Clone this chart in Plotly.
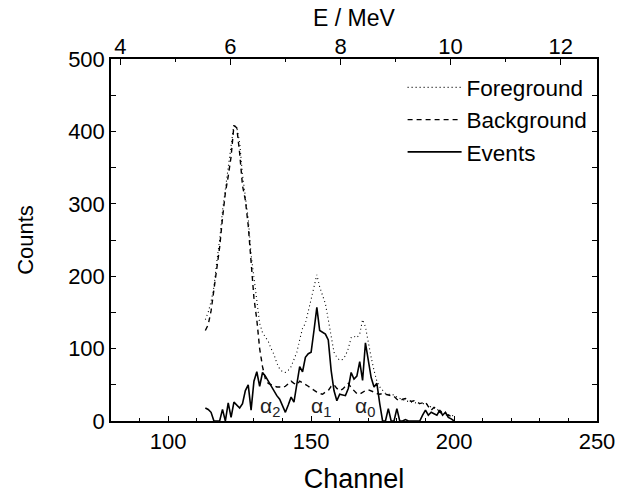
import plotly.graph_objects as go

channel = list(range(113, 201))

foreground = [140, 150, 165, 185, 220, 250, 290, 320, 350, 380,
              410, 405, 385, 340, 310, 280, 230, 200, 165, 135,
              122, 115, 110, 100, 92, 80, 72, 68, 67, 70,
              75, 85, 95, 112, 128, 135, 150, 168, 185, 202,
              185, 172, 162, 140, 115, 95, 88, 84, 85, 90,
              100, 115, 117, 115, 120, 140, 130, 108, 88, 70,
              55, 47, 42, 38, 37, 37, 36, 33, 31, 30,
              28, 27, 26, 25, 24, 24, 24, 24, 22, 19,
              18, 16, 15, 13, 10, 9, 8, 7]

background = [125, 133, 152, 182, 215, 240, 280, 315, 338, 365,
              408, 405, 370, 325, 305, 270, 220, 170, 140, 100,
              75, 58, 52, 50, 48, 47, 47, 46, 48, 52,
              55, 52, 50, 55, 53, 50, 48, 45, 42, 40,
              38, 37, 40, 42, 48, 50, 45, 42, 44, 48,
              52, 46, 42, 38, 37, 40, 42, 43, 42, 40,
              38, 37, 38, 37, 36, 35, 34, 30, 28, 30,
              31, 29, 27, 28, 26, 24, 25, 26, 20, 15,
              19, 17, 12, 10, 9, 8, 6, 5]

events = [18, 16, 12, 0, 0, 0, 16, 0, 25, 5,
          26, 22, 18, 24, 42, 50, 15, 55, 68, 48,
          67, 62, 55, 48, 42, 35, 30, 20, 12, 22,
          33, 26, 48, 75, 68, 88, 93, 95, 125, 157,
          125, 122, 120, 112, 70, 42, 28, 37, 36, 35,
          45, 67, 58, 62, 82, 56, 108, 85, 60, 47,
          52, 24, 0, 0, 17, 0, 0, 17, 0, 0,
          2, 0, 0, 0, 0, 0, 8, 15, 8, 12,
          10, 8, 15, 8, 12, 5, 3, 0]

energy_ticks = [4, 6, 8, 10, 12]
energy_range = [3.83, 12.66]

peak_labels = ["α<sub>2</sub>", "α<sub>1</sub>", "α<sub>0</sub>"]
peak_channels = [135.5, 153.5, 169.0]
peak_counts = [20, 20, 20]

FONT = "Liberation Sans, Arial, sans-serif"

fig = go.Figure()
fig.add_trace(go.Scatter(x=channel, y=foreground, mode="lines", name="Foreground",
                         line=dict(color="black", width=1.1, dash="1px,3px")))
fig.add_trace(go.Scatter(x=channel, y=background, mode="lines", name="Background",
                         line=dict(color="black", width=1.4, dash="5px,4px")))
fig.add_trace(go.Scatter(x=channel, y=events, mode="lines", name="Events",
                         line=dict(color="black", width=1.6)))
# invisible trace to activate the energy axis
fig.add_trace(go.Scatter(x=energy_range, y=[None, None], xaxis="x2", mode="lines",
                         showlegend=False, hoverinfo="skip"))

for lab, cx, cy in zip(peak_labels, peak_channels, peak_counts):
    fig.add_annotation(x=cx, y=cy, text=lab, showarrow=False,
                       font=dict(family=FONT, size=21, color="#222"))

fig.update_layout(
    width=627, height=501,
    margin=dict(l=111, r=20, t=59, b=77),
    paper_bgcolor="white", plot_bgcolor="white",
    font=dict(family=FONT, size=22, color="black"),
    showlegend=True,
    legend=dict(x=0.60, y=0.98, xanchor="left", yanchor="top",
                bgcolor="rgba(0,0,0,0)", font=dict(size=22.5),
                itemwidth=54, tracegroupgap=0),
    xaxis=dict(range=[80, 250], tickvals=[100, 150, 200, 250],
               ticks="inside", ticklen=5, tickwidth=1.2, tickcolor="black",
               minor=dict(dtick=10, tick0=80, ticks="inside", ticklen=3, tickcolor="black"),
               showline=True, linecolor="black", linewidth=1.5, mirror=True,
               showgrid=False, zeroline=False,
               title=dict(text="Channel", font=dict(size=27), standoff=16)),
    xaxis2=dict(range=energy_range, overlaying="x", side="top", anchor="y",
                tickvals=energy_ticks,
                ticks="inside", ticklen=6, tickwidth=1.2, tickcolor="black",
                minor=dict(dtick=1, tick0=4, ticks="inside", ticklen=3, tickcolor="black"),
                showline=False, showgrid=False, zeroline=False,
                title=dict(text="E / MeV", font=dict(size=23), standoff=0)),
    yaxis=dict(range=[0, 500], tickvals=[0, 100, 200, 300, 400, 500],
               ticks="inside", ticklen=5, tickwidth=1.2, tickcolor="black",
               minor=dict(dtick=50, ticks="inside", ticklen=3, tickcolor="black"),
               showline=True, linecolor="black", linewidth=1.5, mirror="allticks",
               showgrid=False, zeroline=False,
               title=dict(text="Counts", font=dict(size=22), standoff=28)),
)

fig.write_html("out.html")
